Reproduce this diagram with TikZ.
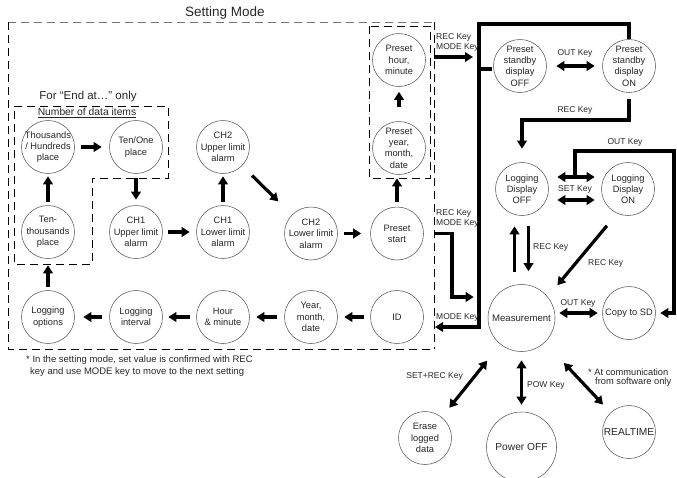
\documentclass[tikz,border=0pt]{standalone}
\usepackage{fontspec}
\setmainfont{Liberation Sans}
\usetikzlibrary{arrows.meta}
\begin{document}
\begin{tikzpicture}[x=1pt,y=-1pt,
  st/.style={circle, draw=black!65, line width=0.55pt, minimum size=53pt, inner sep=-4pt, align=center, text=black!85, font=\fontsize{9.3}{11.3}\selectfont},
  fl/.style={line width=3.2pt, -{Triangle[length=8pt,width=9.5pt]}},
  dfl/.style={line width=3.2pt, {Triangle[length=8pt,width=9.5pt]}-{Triangle[length=8pt,width=9.5pt]}},
  thk/.style={line width=3.2pt},
  lbl/.style={inner sep=0pt, text=black!85, font=\fontsize{8.5}{10}\selectfont},
  txt/.style={inner sep=0pt, text=black!85},
  dsh/.style={line width=0.8pt, dash pattern=on 8pt off 5pt},
]
\useasboundingbox (0,0) rectangle (677,477);

% dashed frames
\draw[dsh, draw=black!55] (8,22) -- (434,22);
\draw[dsh] (8,22) -- (8,349) -- (434,349);
\draw[dsh] (434,22) -- (434,349);
\draw[dsh] (14,106) -- (168,106) -- (168,178) -- (92,178) -- (92,264) -- (14,264) -- cycle;
\draw[dsh] (369,26) rectangle (430,178);

% texts
\node[txt, font=\fontsize{13.5}{15}\selectfont] (title) at (225,13) {Setting Mode};
\node[txt, font=\fontsize{11.5}{13}\selectfont] (endat) at (88,97) {For “End at…” only};
\node[txt, font=\fontsize{10.3}{12}\selectfont] (ndi) at (87,113) {\underline{Number of data items}};
\node[txt, anchor=west, font=\fontsize{9.5}{12}\selectfont] (fn1) at (26,360) {* In the setting mode, set value is confirmed with REC};
\node[txt, anchor=west, font=\fontsize{9.5}{12}\selectfont] (fn2) at (30,372) {key and use MODE key to move to the next setting};

% setting-mode states
\node[st] (thou) at (48,147) {Thousands\\/ Hundreds\\place};
\node[st] (tenone) at (136,147) {Ten/One\\place};
\node[st] (ch2u) at (223,147) {CH2\\Upper limit\\alarm};
\node[st] (tenth) at (48,232) {Ten-\\thousands\\place};
\node[st] (ch1u) at (136,232) {CH1\\Upper limit\\alarm};
\node[st] (ch1l) at (223,232) {CH1\\Lower limit\\alarm};
\node[st] (ch2l) at (311,233.5) {CH2\\Lower limit\\alarm};
\node[st] (pstart) at (397,233.5) {Preset\\start};
\node[st] (pdate) at (399,148) {Preset\\year,\\month,\\date};
\node[st] (phour) at (399,60) {Preset\\hour,\\minute};
\node[st] (logopt) at (48,317) {Logging\\options};
\node[st] (logint) at (136,317) {Logging\\interval};
\node[st] (hourmin) at (223,317) {Hour\\\& minute};
\node[st] (ymd) at (311,317) {Year,\\month,\\date};
\node[st] (id) at (397,317) {ID};

% right-hand states
\node[st] (psoff) at (520,66) {Preset\\standby\\display\\OFF};
\node[st] (pson) at (629,66) {Preset\\standby\\display\\ON};
\node[st] (ldoff) at (522,189) {Logging\\Display\\OFF};
\node[st] (ldon) at (628,189) {Logging\\Display\\ON};
\node[st, minimum size=67pt, font=\fontsize{9.6}{11}\selectfont] (meas) at (521.5,318) {Measurement};
\node[st] (copysd) at (629,313) {Copy to SD};
\node[st] (erase) at (425,438) {Erase\\logged\\data};
\node[st, minimum size=70pt, font=\fontsize{10.2}{12}\selectfont] (poff) at (521.5,447) {Power OFF};
\node[st, font=\fontsize{10.2}{12}\selectfont] (rt) at (629,432) {REALTIME};

% setting-mode arrows
\draw[fl, shorten <=6.5pt, shorten >=7.5pt] (thou) -- (tenone);
\draw[fl, shorten <=3.5pt, shorten >=2.5pt] (tenth) -- (thou);
\draw[fl, shorten <=4.5pt, shorten >=5.5pt] (tenone) -- (ch1u);
\draw[fl, shorten <=5.5pt, shorten >=6.5pt] (ch1u) -- (ch1l);
\draw[fl, shorten <=3.5pt, shorten >=2.5pt] (ch1l) -- (ch2u);
\draw[fl, shorten <=14pt, shorten >=19pt] (ch2u) -- (ch2l);
\draw[fl, shorten <=6.5pt, shorten >=9pt] (ch2l) -- (pstart);
\draw[fl, shorten <=4.5pt, shorten >=3.5pt] (pstart) -- (pstart |- pdate.south);
\draw[fl, shorten <=14.5pt, shorten >=5pt] (pdate) -- (phour);
\draw[fl, shorten <=6.5pt, shorten >=6.5pt] (id) -- (ymd);
\draw[fl, shorten <=7.5pt, shorten >=6.5pt] (ymd) -- (hourmin);
\draw[fl, shorten <=6.5pt, shorten >=5.5pt] (hourmin) -- (logint);
\draw[fl, shorten <=7.5pt, shorten >=8.5pt] (logint) -- (logopt);
\draw[fl, shorten <=3.5pt, shorten >=6.5pt] (logopt) -- (tenth);

% right-hand connectors
\coordinate (vtop) at (479,24);
\coordinate (mk) at (435,327);
\coordinate (rk) at (0,120);
\coordinate (oc) at (674,151);
\coordinate (pc) at (452,297);

\draw[fl] (pson.north) |- (vtop) |- (mk);
\draw[thk, shorten >=1pt] ([yshift=-3pt]psoff.west -| vtop) -- ([yshift=-3pt]psoff.west);
\draw[fl, shorten <=8pt, shorten >=6pt] ([yshift=3pt]phour.east) -- ([yshift=3pt]phour.east -| vtop);
\node[lbl, anchor=west] at (436,37) {REC Key};
\node[lbl, anchor=west] at (436,47) {MODE Key};

\draw[dfl, shorten <=9.5pt, shorten >=7.5pt] (psoff) -- (pson);
\node[lbl] at (575,53) {OUT Key};

\draw[fl, shorten <=6.5pt, shorten >=13.5pt] (pson.south) -- (pson.south |- rk) -| (ldoff.north);
\node[lbl] at (575,110) {REC Key};

\draw[dfl, shorten <=8.5pt, shorten >=6.5pt] ([yshift=12pt]ldoff.east) -- coordinate (setmid) ([yshift=12pt]ldon.west);
\draw[dfl, shorten <=8.5pt, shorten >=6.5pt] ([yshift=-11pt]ldoff.east) -- ([yshift=-11pt]ldon.west);
\node[lbl] at (575,189) {SET Key};

\draw[fl, shorten >=4.5pt] (setmid) |- (oc) |- (copysd.east);
\node[lbl] at (625,142) {OUT Key};

\draw[fl, shorten <=12.5pt, shorten >=10.5pt] ([xshift=-7pt]meas.north) -- ([xshift=-7pt]meas.north |- ldoff.south);
\draw[fl, shorten <=10.5pt, shorten >=13pt] ([xshift=7pt]meas.north |- ldoff.south) -- ([xshift=7pt]meas.north);
\node[lbl, anchor=west] at (533,247) {REC Key};

\draw[fl, shorten <=16pt, shorten >=15pt] (ldon.-114) -- (meas.39);
\node[lbl, anchor=west] at (588,263) {REC Key};

\draw[dfl, shorten <=4pt, shorten >=4.5pt] (copysd.west -| meas.east) -- (copysd.west);
\node[lbl] at (578,303) {OUT Key};

\draw[fl, shorten <=10.5pt, shorten >=14pt] (pstart.east) -| (pc) -- (pc -| meas.west);
\node[lbl, anchor=west] at (436,213) {REC Key};
\node[lbl, anchor=west] at (436,223) {MODE Key};
\node[lbl, anchor=west] at (436,317) {MODE Key};

\draw[dfl, shorten <=12pt, shorten >=21pt] (erase) -- (meas);
\node[lbl, anchor=east] at (463,376) {SET+REC Key};
\draw[dfl, shorten <=8.5pt, shorten >=7pt] (meas) -- (poff);
\node[lbl, anchor=west] at (527,385) {POW Key};
\draw[dfl, shorten <=28pt, shorten >=11pt] (meas) -- (rt);
\node[txt, anchor=west, font=\fontsize{9.3}{10}\selectfont] at (588,372) {* At communication};
\node[txt, anchor=west, font=\fontsize{9.3}{10}\selectfont] at (595,382) {from software only};

\end{tikzpicture}
\end{document}
